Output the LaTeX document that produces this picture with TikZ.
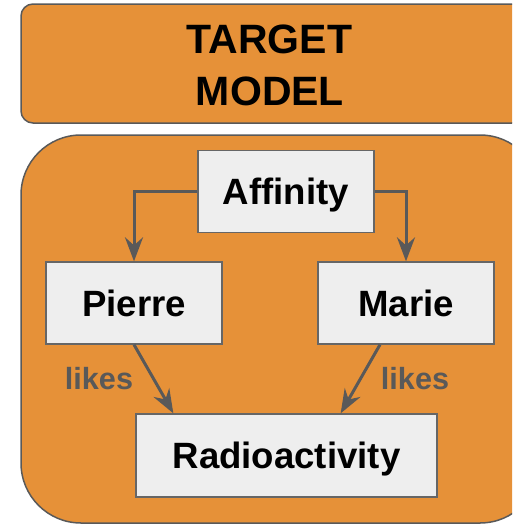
\documentclass[tikz,border=0pt]{standalone}
\usepackage{fontspec}
\setmainfont{Liberation Sans}
\usetikzlibrary{arrows.meta,calc}
\definecolor{panelorange}{HTML}{E69138}
\definecolor{edgegray}{HTML}{595959}
\definecolor{boxfill}{HTML}{EEEEEE}
\definecolor{boxline}{HTML}{666666}
\tikzset{
  panel/.style={draw=edgegray, line width=1.5pt, fill=panelorange},
  entity/.style={draw=boxline, line width=1.3pt, fill=boxfill, rectangle,
    minimum width=176pt, minimum height=82pt, inner sep=0pt,
    font=\bfseries\fontsize{36.6}{40}\selectfont,
    text height=26.5pt, text depth=0pt},
  link/.style={draw=edgegray, line width=3pt,
    -{Stealth[length=24pt, width=18pt, inset=8pt]}},
  relation/.style={text=edgegray, font=\bfseries\fontsize{30.6}{34}\selectfont,
    anchor=base, inner sep=0pt},
}
\begin{document}
\begin{tikzpicture}[x=1pt, y=-1pt]
  \useasboundingbox (0,0) rectangle (512,525);
  \clip (0,0) rectangle (512,525);

  % title banner
  \draw[panel, rounded corners=12pt] (21,4) rectangle (524,123);
  \node[inner sep=0pt, anchor=base, font=\bfseries\fontsize{41}{52}\selectfont]
    (title1) at (269.5,53) {TARGET};
  \node[inner sep=0pt, anchor=base, font=\bfseries\fontsize{41}{52}\selectfont]
    (title2) at (270,105) {MODEL};

  % model panel
  \draw[panel, rounded corners=60pt] (21,135) rectangle (540,523);

  % entities
  \node[entity] (aff) at (286,191.5) {Affinity};
  \node[entity] (pierre) at (134,303) {Pierre};
  \node[entity] (marie) at (406,303) {Marie};
  \node[entity, minimum width=301pt, minimum height=83pt] (rad) at (286.5,455.5) {Radioactivity};

  % connectors
  \draw[link] (aff.west) -| (pierre.north);
  \draw[link] (aff.east) -| (marie.north);
  \draw[link] (pierre.south) -- ($(rad.north west)+(38,0)$);
  \draw[link] ($(marie.south)+(-26,0)$) -- ($(rad.north east)+(-97,0)$);

  % relation labels
  \node[relation] (likesL) at (99,389) {likes};
  \node[relation] (likesR) at (415,389) {likes};
\end{tikzpicture}
\end{document}
